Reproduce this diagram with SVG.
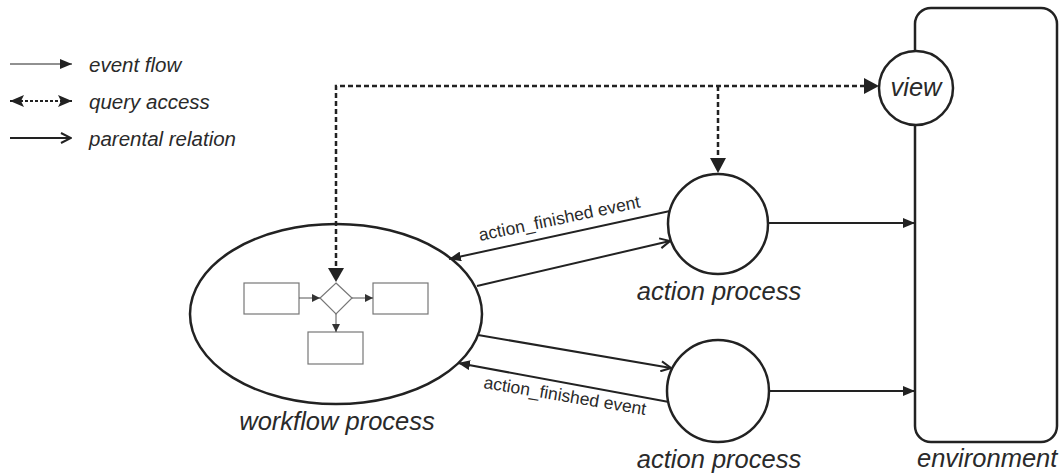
<svg xmlns="http://www.w3.org/2000/svg" width="1059" height="475" viewBox="0 0 1059 475">
  <style>
    .lbl { font-family: "Liberation Sans", Arial, sans-serif; font-style: italic; fill: #2a2a2a; }
    .big { font-size: 25.5px; }
    .leg { font-size: 20.5px; }
    .small { font-size: 17.5px; font-style: normal; }
    .node { fill: #fff; stroke: #222; stroke-width: 2.5; }
    .inner { fill: #fff; stroke: #777; stroke-width: 1.2; }
    .ev { fill: none; stroke: #222; stroke-width: 2; marker-end: url(#filled); }
    .par { fill: none; stroke: #222; stroke-width: 2; marker-end: url(#open); }
    .qry { fill: none; stroke: #222; stroke-width: 2.5; stroke-dasharray: 5 3; }
  </style>
  <defs>
    <marker id="filled" viewBox="0 0 12 10" refX="12" refY="5" markerWidth="12" markerHeight="10" markerUnits="userSpaceOnUse" orient="auto">
      <path d="M0,0 L12,5 L0,10 z" fill="#222"/>
    </marker>
    <marker id="open" viewBox="0 0 12 12" refX="11" refY="6" markerWidth="12" markerHeight="12" markerUnits="userSpaceOnUse" orient="auto">
      <path d="M1,1 L11,6 L1,11" fill="none" stroke="#222" stroke-width="2"/>
    </marker>
    <marker id="qhead" viewBox="0 0 14 12" refX="14" refY="6" markerWidth="14" markerHeight="12" markerUnits="userSpaceOnUse" orient="auto-start-reverse">
      <path d="M0,0 L14,6 L0,12 L3,6 z" fill="#222"/>
    </marker>
    <marker id="small" viewBox="0 0 8 8" refX="8" refY="4" markerWidth="8" markerHeight="8" markerUnits="userSpaceOnUse" orient="auto">
      <path d="M0,0 L8,4 L0,8 z" fill="#333"/>
    </marker>
  </defs>

  <!-- legend -->
  <g id="legend">
    <line x1="10" y1="64" x2="72" y2="64" stroke="#222" stroke-width="1" marker-end="url(#filled)"/>
    <text class="lbl leg" x="89" y="72">event flow</text>
    <line x1="10" y1="101" x2="72" y2="101" stroke="#222" stroke-width="2" stroke-dasharray="3 2" marker-start="url(#qhead)" marker-end="url(#qhead)"/>
    <text class="lbl leg" x="89" y="109">query access</text>
    <line x1="10" y1="138" x2="71" y2="138" stroke="#222" stroke-width="2" marker-end="url(#open)"/>
    <text class="lbl leg" x="89" y="146">parental relation</text>
  </g>

  <!-- environment -->
  <g id="environment">
    <rect class="node" x="915" y="8" width="142" height="434" rx="16" stroke-width="2"/>
    <text class="lbl big" x="917" y="467">environment</text>
  </g>

  <!-- view -->
  <g id="view">
    <circle class="node" cx="916" cy="88" r="37"/>
    <text class="lbl big" x="916" y="96" text-anchor="middle">view</text>
  </g>

  <!-- workflow process -->
  <g id="workflow">
    <ellipse class="node" cx="336" cy="314" rx="146" ry="90"/>
    <rect class="inner" x="244" y="283" width="55" height="31"/>
    <rect class="inner" x="373" y="283" width="55" height="31"/>
    <rect class="inner" x="308" y="332" width="55" height="32"/>
    <path class="inner" d="M336,283 L352,298 L336,314 L320,298 z"/>
    <line x1="299" y1="298" x2="320" y2="298" stroke="#555" stroke-width="1" marker-end="url(#small)"/>
    <line x1="352" y1="298" x2="373" y2="298" stroke="#555" stroke-width="1" marker-end="url(#small)"/>
    <line x1="336" y1="314" x2="336" y2="332" stroke="#555" stroke-width="1" marker-end="url(#small)"/>
    <text class="lbl big" x="337" y="430" text-anchor="middle">workflow process</text>
  </g>

  <!-- action processes -->
  <g id="action1">
    <circle class="node" cx="718" cy="224" r="50"/>
    <text class="lbl big" x="719" y="300" text-anchor="middle">action process</text>
  </g>
  <g id="action2">
    <circle class="node" cx="718" cy="391" r="51"/>
    <text class="lbl big" x="719" y="468" text-anchor="middle">action process</text>
  </g>

  <!-- connectors -->
  <g id="connectors">
    <!-- query access paths -->
    <polyline class="qry" points="336,266 336,86 866,86"/>
    <line class="qry" x1="718" y1="86" x2="718" y2="160"/>
    <path d="M328,268 L344,268 L336,282 z" fill="#222"/>
    <path d="M710,158 L726,158 L718,173 z" fill="#222"/>
    <path d="M864,78 L879,86 L864,94 z" fill="#222"/>

    <!-- parental relations -->
    <line class="par" x1="477" y1="286" x2="670" y2="241"/>
    <line class="par" x1="478" y1="335" x2="671" y2="368"/>

    <!-- event flows -->
    <line class="ev" x1="670" y1="211" x2="449" y2="259"/>
    <line class="ev" x1="669" y1="402" x2="458" y2="363"/>
    <line class="ev" x1="769" y1="223" x2="915" y2="223"/>
    <line class="ev" x1="769" y1="391" x2="915" y2="391"/>

    <text class="lbl small" transform="translate(480,241) rotate(-11.8)">action_finished event</text>
    <text class="lbl small" transform="translate(483,388) rotate(9.5)">action_finished event</text>
  </g>
</svg>
